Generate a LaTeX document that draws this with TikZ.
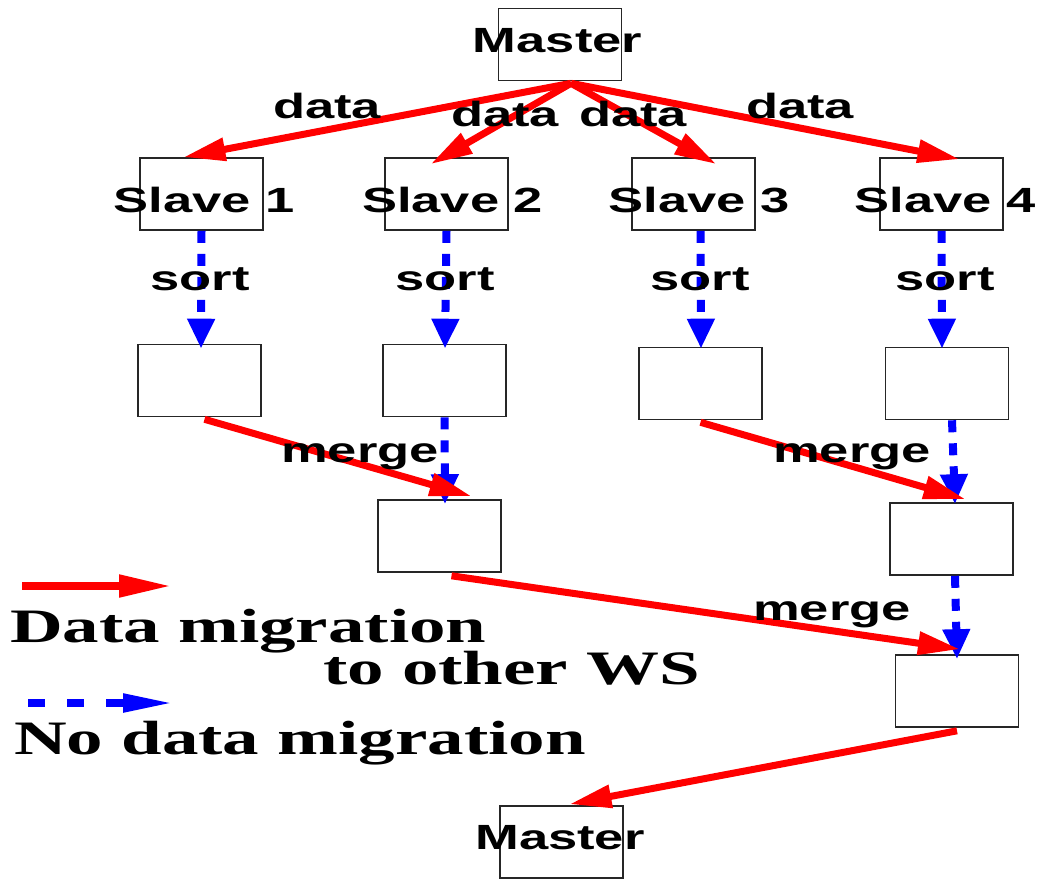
\documentclass[tikz,border=0pt]{standalone}
\usepackage{fontspec}
\usepackage{graphicx}
\setsansfont{Liberation Sans}
\setmainfont{Liberation Serif}
\usetikzlibrary{arrows.meta,calc}

% wide lettering used throughout the figure
\newcommand\wsf[1]{\scalebox{1.5}[1]{#1}}
\newcommand\wrm[1]{\scalebox{1.52}[1]{#1}}

\begin{document}
\begin{tikzpicture}[x=1pt,y=-1pt,
  box/.style={draw=black!85, line width=1.6pt, minimum width=123pt, minimum height=72pt, inner sep=0pt},
  lbl/.style={font=\sffamily\bfseries\fontsize{35}{35}\selectfont, inner sep=0pt, text=black, anchor=base},
  legtext/.style={font=\rmfamily\bfseries\fontsize{48}{48}\selectfont, inner sep=0pt, anchor=base west},
  migrate/.style={draw=red, line width=7pt, -{Triangle[length=42pt,width=22pt]}},
  local/.style={draw=blue, line width=8pt, dash pattern=on 12pt off 11pt, -{Triangle[length=30pt,width=26pt]}},
]
\useasboundingbox (0,0) rectangle (1040,878);

% workstations
\node[box] (m1) at (560,44.5) {};
\node[box] (s1) at (201.5,194) {};
\node[box] (s2) at (446.5,194) {};
\node[box] (s3) at (693.5,194) {};
\node[box] (s4) at (941.5,194) {};
\node[box] (t1) at (199.5,380.5) {};
\node[box] (t2) at (444.5,380.5) {};
\node[box] (t3) at (700.5,383.5) {};
\node[box] (t4) at (947,383.5) {};
\node[box] (a) at (439.5,536) {};
\node[box] (b) at (951.5,539) {};
\node[box] (c) at (957,691) {};
\node[box] (m2) at (561.5,842) {};

% local sorting and merging (no migration)
\draw[local] (s1.south) -- ($(t1.north)+(1.5,5)$);
\draw[local] (s2.south) -- ($(t2.north)+(0.5,5)$);
\draw[local] ($(s3.south)+(7,0)$) -- ($(t3.north)+(0.5,2)$);
\draw[local] (s4.south) -- ($(t4.north)+(-5,2)$);
\draw[local] (t2.south) -- ($(a.north)+(5.5,5)$);
\draw[local] ($(t4.south)+(5,0)$) -- ($(b.north)+(3.5,2)$);
\draw[local] ($(b.south)+(3.5,0)$) -- ($(c.north)+(0,5)$);

% distribution from the master
\draw[migrate] ($(m1.south)+(11,2)$) -- ($(s1.north)+(-18,0)$);
\draw[migrate] ($(m1.south)+(11,2)$) -- ($(s2.north)+(-16,7)$);
\draw[migrate] ($(m1.south)+(11,2)$) -- ($(s3.north)+(23,7)$);
\draw[migrate] ($(m1.south)+(11,2)$) -- ($(s4.north)+(18,2)$);

% merges across workstations
\draw[migrate] ($(t1.south)+(5,2)$) -- ($(a.north)+(32,-3)$);
\draw[migrate] ($(t3.south)+(0,2)$) -- ($(b.north)+(14,-3)$);
\draw[migrate] ($(a.south)+(12,3)$) -- ($(c.north)+(3,-5)$);
\draw[migrate] ($(c.south)+(0,3)$) -- ($(m2.north)+(8,-1)$);

% node texts
\node[lbl] (tm1) at (557.5,52) {\wsf{Master}};
\node[lbl] (ts1) at (204,212) {\wsf{Slave 1}};
\node[lbl] (ts2) at (452.5,212) {\wsf{Slave 2}};
\node[lbl] (ts3) at (699,212) {\wsf{Slave 3}};
\node[lbl] (ts4) at (945,212) {\wsf{Slave 4}};
\node[lbl] (tm2) at (560,849) {\wsf{Master}};

% edge labels
\node[lbl] (d1) at (327,118) {\wsf{data}};
\node[lbl] (d2) at (505,126) {\wsf{data}};
\node[lbl] (d3) at (633,126) {\wsf{data}};
\node[lbl] (d4) at (800,118) {\wsf{data}};
\node[lbl] (o1) at (200,290) {\wsf{sort}};
\node[lbl] (o2) at (445,290) {\wsf{sort}};
\node[lbl] (o3) at (700,290) {\wsf{sort}};
\node[lbl] (o4) at (945,290) {\wsf{sort}};
\node[lbl] (g1) at (360,462) {\wsf{merge}};
\node[lbl] (g2) at (852,462) {\wsf{merge}};
\node[lbl] (g3) at (832,620) {\wsf{merge}};

% legend
\coordinate (lr1) at (22,586);
\coordinate (lr2) at (172,586);
\coordinate (lb1) at (28,703);
\coordinate (lb2) at (175,703);
\draw[migrate, -{Triangle[length=53pt,width=21pt]}, line width=8pt] (lr1) -- (lr2);
\draw[local, dash pattern=on 17pt off 22pt, -{Triangle[length=52pt,width=17pt]}] (lb1) -- (lb2);
\node[legtext] (l1) at (10,642) {\wrm{Data migration}};
\node[legtext] (l2) at (323,684) {\wrm{to other WS}};
\node[legtext] (l3) at (14,754) {\wrm{No data migration}};
\end{tikzpicture}
\end{document}
